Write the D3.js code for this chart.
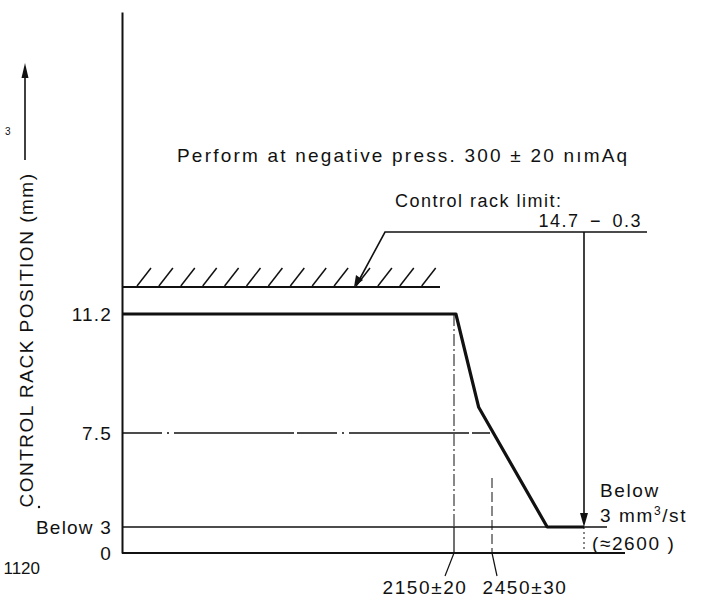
<!DOCTYPE html>
<html><head><meta charset="utf-8">
<script src="https://cdn.jsdelivr.net/npm/d3@7"></script>
<style>
body{margin:0;background:#fff;}
text{font-family:"Liberation Sans",Arial,sans-serif;fill:#111;}
</style></head><body>
<svg id="c" width="717" height="614"></svg>
<script>
// ---- data ----
const rackTicks = [0, 3, 7.5, 11.2];
const rackTickLabels = ["0", "Below 3", "7.5", "11.2"];
const rpmMarks = [2150, 2450];
const rpmMarkLabels = ["2150\u00b120", "2450\u00b130"];
const curveRpm = [0, 2165, 2345, 2540, 2600];
const curveRack = [11.2, 11.2, 8.3, 3, 3];
const rackLimit = 14.4; // 14.7 - 0.3
const cutoffRpm = 2600;
const yLabel = "CONTROL RACK POSITION (mm)";

const svg = d3.select("#c");
// schematic (non-linear) scales
const x = d3.scaleLinear().domain([0, 2150, 2450, 2600, 2660]).range([122, 454, 492, 584, 625]);
const y = d3.scaleLinear().domain([0, 3, 7.5, 11.2, rackLimit, 20]).range([553, 527, 433, 314, 287, 12]);

const ink = "#111";
const FS = 19, LS = 1.6;

// y axis
const yAxis = d3.axisLeft(y).tickValues(rackTicks)
  .tickFormat((d, i) => rackTickLabels[i]).tickSize(0).tickPadding(10);
const ga = svg.append("g").attr("transform", "translate(122,0)").call(yAxis);
ga.select(".domain").attr("stroke", ink).attr("stroke-width", 2);
ga.selectAll(".tick text").attr("font-size", FS).attr("letter-spacing", 1.2)
  .attr("font-family", "Liberation Sans, Arial, sans-serif").attr("fill", ink);

// baseline
svg.append("line").attr("x1", x(0)).attr("x2", x(2660)).attr("y1", y(0)).attr("y2", y(0))
  .attr("stroke", ink).attr("stroke-width", 2);
// below 3 line
svg.append("line").attr("x1", x(0)).attr("x2", 607).attr("y1", y(3)).attr("y2", y(3))
  .attr("stroke", ink).attr("stroke-width", 1.6);
// 7.5 line (long dash-dot)
svg.append("line").attr("x1", x(0)).attr("x2", 490).attr("y1", y(7.5)).attr("y2", y(7.5))
  .attr("stroke", ink).attr("stroke-width", 1.5).attr("stroke-dasharray", "40,5,2,5,120,3");

// rack limit hatched line
svg.append("line").attr("x1", x(0)).attr("x2", 440).attr("y1", y(rackLimit)).attr("y2", y(rackLimit))
  .attr("stroke", ink).attr("stroke-width", 1.8);
const hatchX = d3.range(14).map(i => 137 + i * 21.9);
svg.selectAll(".hatch").data(hatchX).enter().append("line")
  .attr("x1", d => d).attr("y1", y(rackLimit) - 1)
  .attr("x2", d => d + 14).attr("y2", y(rackLimit) - 19)
  .attr("stroke", ink).attr("stroke-width", 1.5);

// leader for rack limit
svg.append("path").attr("d", `M357,${y(rackLimit) - 3} L385,232 L647,232`)
  .attr("fill", "none").attr("stroke", ink).attr("stroke-width", 1.6);
svg.append("path").attr("d", `M354,${y(rackLimit)} L356,${y(rackLimit) - 12} L363,${y(rackLimit) - 7} Z`)
  .attr("fill", ink);

// vertical dashed lines
svg.append("line").attr("x1", x(2150)).attr("x2", x(2150)).attr("y1", y(11.2)).attr("y2", y(3))
  .attr("stroke", ink).attr("stroke-width", 1).attr("stroke-dasharray", "12,3,2,3");
svg.append("line").attr("x1", x(2150)).attr("x2", x(2150)).attr("y1", y(3)).attr("y2", y(0))
  .attr("stroke", ink).attr("stroke-width", 1.2);
svg.append("line").attr("x1", x(2450)).attr("x2", x(2450)).attr("y1", 478).attr("y2", y(0))
  .attr("stroke", ink).attr("stroke-width", 1).attr("stroke-dasharray", "10,4");
svg.append("line").attr("x1", x(cutoffRpm)).attr("x2", x(cutoffRpm)).attr("y1", y(3)).attr("y2", y(0))
  .attr("stroke", ink).attr("stroke-width", 1).attr("stroke-dasharray", "2,3");

// curve
const line = d3.line().x(d => x(d[0])).y(d => y(d[1]));
svg.append("path").datum(curveRpm.map((r, i) => [r, curveRack[i]]))
  .attr("d", line).attr("fill", "none").attr("stroke", ink).attr("stroke-width", 3.2)
  .attr("stroke-linejoin", "round");

// vertical arrow
svg.append("line").attr("x1", x(cutoffRpm)).attr("x2", x(cutoffRpm)).attr("y1", 232).attr("y2", y(3) - 10)
  .attr("stroke", ink).attr("stroke-width", 1.6);
svg.append("path").attr("d", `M${x(cutoffRpm) - 4},${y(3) - 14} L${x(cutoffRpm) + 4},${y(3) - 14} L${x(cutoffRpm)},${y(3)} Z`)
  .attr("fill", ink);

// rpm labels with leaders
const offs = [-29, 33];
rpmMarks.forEach((r, i) => {
  const xs = x(r);
  svg.append("line").attr("x1", xs).attr("y1", y(0)).attr("x2", xs + (i === 0 ? -9 : 5)).attr("y2", 576)
    .attr("stroke", ink).attr("stroke-width", 1.2);
  svg.append("text").attr("x", xs + offs[i]).attr("y", 594).attr("text-anchor", "middle")
    .attr("font-size", FS).attr("letter-spacing", LS).text(rpmMarkLabels[i]);
});

// annotation texts
svg.append("text").attr("x", 177).attr("y", 162).attr("font-size", FS).attr("letter-spacing", 2.2)
  .text("Perform at negative press. 300 \u00b1 20 n\u0131mAq");
svg.append("text").attr("x", 395).attr("y", 207).attr("font-size", 18).attr("letter-spacing", 1.5)
  .text("Control rack limit:");
svg.append("text").attr("x", 642).attr("y", 227).attr("font-size", 18).attr("text-anchor", "end")
  .attr("letter-spacing", 1.5).text("14.7\u2002\u2212\u20020.3");
svg.append("text").attr("x", 600).attr("y", 497).attr("font-size", FS).attr("letter-spacing", LS).text("Below");
const t3 = svg.append("text").attr("x", 600).attr("y", 522).attr("font-size", FS).attr("letter-spacing", LS);
t3.append("tspan").text("3 mm");
t3.append("tspan").attr("font-size", 12).attr("dy", -7).text("3");
t3.append("tspan").attr("dy", 7).text("/st");
svg.append("text").attr("x", 592).attr("y", 550).attr("font-size", FS).attr("letter-spacing", LS).text("(\u22482600 )");

// y title
svg.append("text").attr("transform", "translate(33,340) rotate(-90)").attr("text-anchor", "middle")
  .attr("font-size", FS).attr("letter-spacing", 1.5).text(yLabel);
svg.append("circle").attr("cx", 39).attr("cy", 507).attr("r", 1.2).attr("fill", ink);

// left-edge fragments of the neighbouring figure
svg.append("line").attr("x1", 25).attr("x2", 25).attr("y1", 75).attr("y2", 160).attr("stroke", ink).attr("stroke-width", 1.6);
svg.append("path").attr("d", "M21.5,78 L28.5,78 L25,63 Z").attr("fill", ink);
svg.append("text").attr("x", 5).attr("y", 135).attr("font-size", 10).text("3");
svg.append("text").attr("x", 40).attr("y", 574).attr("text-anchor", "end").attr("font-size", 17).text("1120");
</script>
</body></html>
